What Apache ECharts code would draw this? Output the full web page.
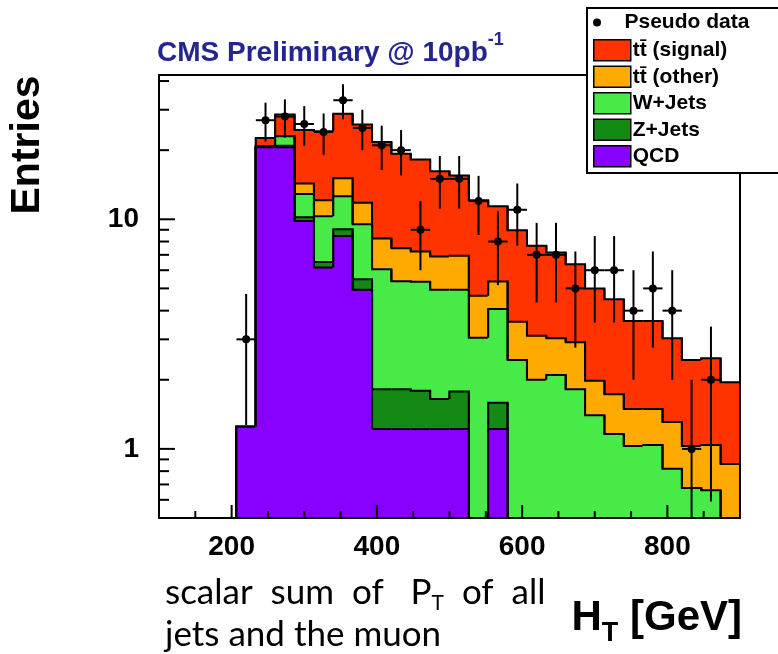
<!DOCTYPE html>
<html>
<head>
<meta charset="utf-8">
<title>H_T stacked histogram</title>
<script src="https://cdn.jsdelivr.net/npm/echarts@6/dist/echarts.min.js"></script>
<style>
  html, body { margin: 0; padding: 0; background: #fff; }
  #chart { width: 778px; height: 654px; }
</style>
</head>
<body>
<div id="chart"></div>
<script>
// 30 bins between 100 and 900 GeV
const binLo = 100, binHi = 900, nBins = 30;

// MC contributions per bin (entries)
const qcd      = [0,0,0,0,1.25,20.6,20.6,9.83,6.17,8.46,4.93,1.22,1.22,1.22,1.22,1.22,0,1.22,0,0,0,0,0,0,0,0,0,0,0,0];
const zJets    = [0,0,0,0,0,0.2,0.3,0.37,0.35,0.59,0.55,0.6,0.6,0.57,0.43,0.56,0,0.37,0,0,0,0,0,0,0,0,0,0,0,0];
const wJets    = [0,0,0,0,0,0,2.1,2.7,3.78,3.55,4.03,4.24,3.55,3.55,3.28,3.15,3.05,2.48,2.44,2.0,2.1,1.82,1.4,1.16,1.03,1.04,0.82,0.675,0.66,0.35];
const ttOther  = [0,0,0,0,0,0,0,1.4,1.8,2.5,2.29,2.18,2.1,1.9,1.95,2.0,1.59,1.29,1.14,1.11,0.93,1.09,0.58,0.57,0.46,0.45,0.49,0.355,0.38,0.51];
const ttSignal = [0,0,0,0,0,1.8,5.6,10.2,12.1,13.7,14.1,13.46,11.83,10.96,9.32,8.57,7.46,6.04,5.38,4.55,4.14,3.46,3.02,2.76,2.12,2.12,1.72,1.41,1.44,1.09];

// pseudo data and its error bars
const pseudoData = [0,0,0,0,3,27,28,26,24,33,25,21,20,9,15,15,12,8,11,7,7,5,6,6,4,5,4,1,2,0];
const dataErr    = [0,0,0,0,1.73,5.2,5.29,5.1,4.9,5.74,5,4.58,4.47,3,3.87,3.87,3.46,2.83,3.32,2.65,2.65,2.24,2.45,2.45,2,2.24,2,1,1.41,0];

// axes
const xTicks = [150,200,250,300,350,400,450,500,550,600,650,700,750,800,850];
const xMajor = [200,400,600,800];
const yTicks = [0.6,0.7,0.8,0.9,1,2,3,4,5,6,7,8,9,10,20,30,40];
const yMajor = [1,10];
const yMin = 0.5, yMax = 42.5;

const FONT = '"Liberation Sans", Arial, Helvetica, sans-serif';
const NOTE_FONT = 'Lato, "Open Sans", sans-serif';
const binW = (binHi - binLo) / nBins;
const edge = i => binLo + i * binW;

// cumulative stack, bottom to top
const add = (a, b) => a.map((v, i) => v + b[i]);
const cumQcd = qcd;
const cumZ = add(cumQcd, zJets);
const cumW = add(cumZ, wJets);
const cumOther = add(cumW, ttOther);
const cumSignal = add(cumOther, ttSignal);

function histSeries(name, color, cum) {
  const data = cum.map((v, i) => [edge(i), edge(i + 1), v,
    i > 0 ? cum[i - 1] : 0, i < nBins - 1 ? cum[i + 1] : 0]);
  return {
    name: name, type: 'custom', coordinateSystem: 'cartesian2d', clip: true,
    itemStyle: { color: color },
    encode: { x: [0, 1], y: 2 },
    data: data,
    renderItem: function (params, api) {
      const x0 = api.value(0), x1 = api.value(1);
      const top = api.value(2), prev = api.value(3), next = api.value(4);
      const yOf = v => api.coord([x0, v > 0 ? v : 1e-3])[1];
      const xa = api.coord([x0, yMin])[0], xb = api.coord([x1, yMin])[0];
      const yBase = api.coord([x0, yMin])[1];
      const yt = yOf(top);
      const kids = [];
      if (top > yMin) {
        // overlap neighbours a little so no seams show between bins
        kids.push({ type: 'rect', shape: { x: xa - 0.6, y: yt, width: xb - xa + 1.2, height: yBase - yt },
          style: { fill: color, stroke: null } });
      }
      kids.push({ type: 'polyline',
        shape: { points: [[xa, yOf(prev)], [xa, yt], [xb, yt], [xb, yOf(next)]] },
        style: { fill: null, stroke: '#000', lineWidth: 2 } });
      return { type: 'group', children: kids };
    }
  };
}

const dataPoints = [];
pseudoData.forEach((v, i) => {
  if (v > 0) dataPoints.push([(edge(i) + edge(i + 1)) / 2, v, dataErr[i], edge(i), edge(i + 1)]);
});

const chart = echarts.init(document.getElementById('chart'));
chart.setOption({
  animation: false,
  backgroundColor: '#fff',
  grid: { left: 159, right: 38, top: 75, bottom: 136 },
  title: [
    {
      text: '{m|CMS Preliminary @ 10pb}{s|-1}',
      left: 157, top: 31, padding: 0,
      textStyle: { rich: {
        m: { fontFamily: FONT, fontWeight: 'bold', fontSize: 28, color: '#25258f', lineHeight: 36, verticalAlign: 'bottom' },
        s: { fontFamily: FONT, fontWeight: 'bold', fontSize: 18, color: '#25258f', lineHeight: 19, verticalAlign: 'top' }
      } }
    },
    {
      text: '{a|scalar  sum  of   P}{s|T}{a|  of  all}\n{a|jets and the muon}',
      left: 165, top: 572, padding: 0,
      textStyle: { rich: {
        a: { fontFamily: NOTE_FONT, fontWeight: 'normal', fontSize: 35, color: '#000', lineHeight: 42 },
        s: { fontFamily: NOTE_FONT, fontWeight: 'normal', fontSize: 21, color: '#000', lineHeight: 20, verticalAlign: 'bottom' }
      } }
    },
    {
      text: '{h|H}{t|T}{h| [GeV]}',
      right: 36, top: 597, padding: 0,
      textStyle: { rich: {
        h: { fontFamily: FONT, fontWeight: 'bold', fontSize: 42, color: '#000', lineHeight: 50, verticalAlign: 'top' },
        t: { fontFamily: FONT, fontWeight: 'bold', fontSize: 27, color: '#000', lineHeight: 27, verticalAlign: 'bottom' }
      } }
    }
  ],
  graphic: [{
    type: 'text', x: 28, y: 145, rotation: Math.PI / 2,
    style: { text: 'Entries', font: 'bold 41px ' + FONT, fill: '#000', align: 'center', verticalAlign: 'middle' }
  }],
  legend: [
    {
      data: [{ name: 'Pseudo data', icon: 'circle' }],
      left: 587, top: 8, orient: 'vertical', selectedMode: false,
      itemWidth: 37, itemHeight: 8,
      padding: [4, 40, 140, 6],
      backgroundColor: '#fff', borderColor: '#000', borderWidth: 2,
      textStyle: { fontFamily: FONT, fontSize: 21, fontWeight: 'bold', color: '#000', lineHeight: 21, padding: [0, 0, 0, 4] },
      z: 20
    },
    {
      data: ['tt\u0304 (signal)', 'tt\u0304 (other)', 'W+Jets', 'Z+Jets', 'QCD'].map(n => ({ name: n, icon: 'rect' })),
      left: 593, top: 39, orient: 'vertical', selectedMode: false,
      itemWidth: 37, itemHeight: 21, itemGap: 4, padding: 0,
      itemStyle: { borderColor: '#000', borderWidth: 1.5 },
      textStyle: { fontFamily: FONT, fontSize: 21, fontWeight: 'bold', color: '#000', lineHeight: 21, padding: [0, 0, 0, -3] },
      z: 21
    }
  ],
  xAxis: [
    {
      type: 'value', min: binLo, max: binHi, interval: 50, position: 'bottom', z: 10,
      axisLine: { onZero: false, lineStyle: { color: '#000', width: 2 } },
      axisTick: { show: false }, splitLine: { show: false },
      axisLabel: { formatter: v => (xMajor.indexOf(v) >= 0 ? String(v) : ''),
        fontFamily: FONT, fontWeight: 'bold', fontSize: 28, color: '#000', margin: 15 }
    },
    {
      type: 'value', min: binLo, max: binHi, position: 'top', z: 10,
      axisLine: { onZero: false, lineStyle: { color: '#000', width: 2 } },
      axisTick: { show: false }, axisLabel: { show: false }, splitLine: { show: false }
    }
  ],
  yAxis: [
    {
      type: 'log', logBase: 10, min: yMin, max: yMax, position: 'left', z: 10,
      axisLine: { onZero: false, lineStyle: { color: '#000', width: 2 } },
      axisTick: { show: false }, splitLine: { show: false },
      axisLabel: {
        formatter: v => (yMajor.some(m => Math.abs(m - v) < 1e-6) ? String(Math.round(v)) : ''),
        fontFamily: FONT, fontWeight: 'bold', fontSize: 28, color: '#000', margin: 20
      }
    },
    {
      type: 'log', logBase: 10, min: yMin, max: yMax, position: 'right', z: 10,
      axisLine: { onZero: false, lineStyle: { color: '#000', width: 2 } },
      axisTick: { show: false }, axisLabel: { show: false }, splitLine: { show: false }
    }
  ],
  series: [
    histSeries('tt\u0304 (signal)', '#ff3300', cumSignal),
    histSeries('tt\u0304 (other)', '#ffaa00', cumOther),
    histSeries('W+Jets', '#48ea48', cumW),
    histSeries('Z+Jets', '#138a13', cumZ),
    histSeries('QCD', '#8800ff', cumQcd),
    {
      name: 'Pseudo data', type: 'custom', coordinateSystem: 'cartesian2d', clip: true, z: 5,
      itemStyle: { color: '#000' },
      encode: { x: 0, y: 1 },
      data: dataPoints,
      renderItem: function (params, api) {
        const xc = api.value(0), v = api.value(1), e = api.value(2);
        const lo = v - e > 0 ? v - e : 1e-3;
        const c = api.coord([xc, v]);
        const pLo = api.coord([xc, lo]), pHi = api.coord([xc, v + e]);
        const a = api.coord([api.value(3), v]), b = api.coord([api.value(4), v]);
        const ls = { stroke: '#000', lineWidth: 2 };
        return { type: 'group', children: [
          { type: 'line', shape: { x1: pLo[0], y1: pLo[1], x2: pHi[0], y2: pHi[1] }, style: ls },
          { type: 'line', shape: { x1: a[0], y1: a[1], x2: b[0], y2: b[1] }, style: ls },
          { type: 'circle', shape: { cx: c[0], cy: c[1], r: 4 }, style: { fill: '#000' } }
        ] };
      }
    },
    {
      name: 'xTicks', type: 'custom', coordinateSystem: 'cartesian2d', z: 8, silent: true,
      data: xTicks.map(v => [v, xMajor.indexOf(v) >= 0 ? 13 : 7]),
      encode: { x: 0 },
      renderItem: function (params, api) {
        const p = api.coord([api.value(0), yMin]);
        return { type: 'line', shape: { x1: p[0], y1: p[1], x2: p[0], y2: p[1] - api.value(1) },
          style: { stroke: '#000', lineWidth: 2 } };
      }
    },
    {
      name: 'yTicks', type: 'custom', coordinateSystem: 'cartesian2d', z: 8, silent: true,
      data: yTicks.map(v => [binLo, v, yMajor.indexOf(v) >= 0 ? 16 : 10]),
      encode: { x: 0, y: 1 },
      renderItem: function (params, api) {
        const p = api.coord([binLo, api.value(1)]);
        return { type: 'line', shape: { x1: p[0], y1: p[1], x2: p[0] + api.value(2), y2: p[1] },
          style: { stroke: '#000', lineWidth: 2 } };
      }
    }
  ]
});
</script>
</body>
</html>
